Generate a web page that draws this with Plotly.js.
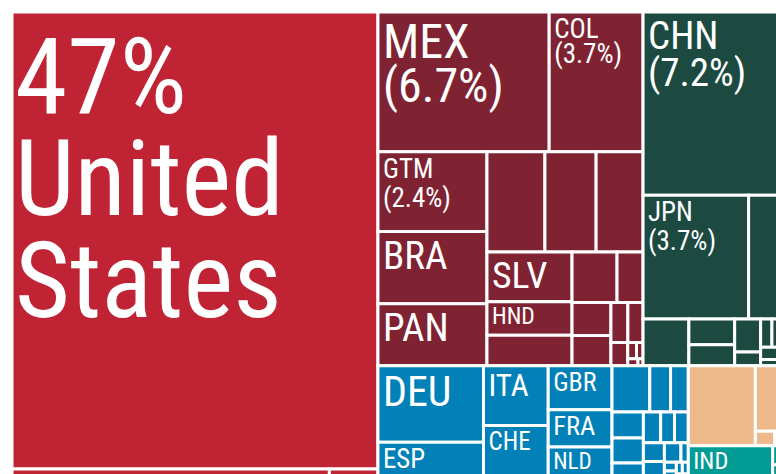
<!DOCTYPE html>
<html><head><meta charset="utf-8">
<script src="https://cdn.plot.ly/plotly-3.0.1.min.js"></script>
<style>
html,body{margin:0;padding:0;background:#fff;overflow:hidden}
#wrap{width:776px;height:474px;overflow:hidden;position:relative}
#chart{width:800px;height:490px}
</style></head><body>
<div id="wrap"><div id="chart"></div></div>
<script>
// ---- data: import shares (%) by origin, grouped by region ----
const northAmerica      = ['USA','CAN','PRI'];
const northAmericaShare = [47.0, 0.98, 0.15];

const latinAmerica      = ['MEX','COL','GTM','BRA','PAN','VEN','CHL','ECU','SLV','HND','NIC','DOM','PER','ARG','TTO','URY','CUB','PRY','BOL','JAM','HTI','BLZ'];
const latinAmericaShare = [6.73, 3.69, 2.44, 2.21, 1.90, 1.63, 1.44, 1.32, 1.19, 0.80, 0.73, 0.64, 0.37, 0.36, 0.33, 0.19, 0.17, 0.11, 0.04, 0.03, 0.02, 0.01];

const eastAsia      = ['CHN','JPN','KOR','TWN','THA','HKG','MYS','SGP','VNM','IDN','PHL','MNG','BRN'];
const eastAsiaShare = [7.16, 3.67, 1.16, 0.60, 0.33, 0.27, 0.24, 0.10, 0.09, 0.08, 0.06, 0.03, 0.02];

const europe      = ['DEU','ESP','ITA','CHE','GBR','FRA','NLD','BEL','SWE','AUT','FIN','DNK','IRL','PRT','POL','CZE','NOR','HUN','RUS','SVK','ROU','GRC','SVN','LUX','BGR'];
const europeShare = [2.27, 1.12, 1.09, 0.99, 0.79, 0.67, 0.59, 0.49, 0.27, 0.23, 0.23, 0.22, 0.15, 0.15, 0.12, 0.12, 0.11, 0.11, 0.09, 0.04, 0.03, 0.03, 0.02, 0.02, 0.02];

const middleEast      = ['ISR','TUR','ARE','SAU','JOR'];
const middleEastShare = [1.51, 0.49, 0.08, 0.02, 0.01];

const southAsia      = ['IND','PAK','BGD'];
const southAsiaShare = [0.81, 0.05, 0.04];

const regions      = ['North America','Latin America','East Asia','Europe','Middle East','South Asia'];
const regionCodes  = [northAmerica, latinAmerica, eastAsia, europe, middleEast, southAsia];
const regionShares = [northAmericaShare, latinAmericaShare, eastAsiaShare, europeShare, middleEastShare, southAsiaShare];

// labels drawn on tiles
const shownCodes   = ['USA','MEX','COL','GTM','BRA','PAN','SLV','HND','CHN','JPN','DEU','ESP','ITA','CHE','GBR','FRA','NLD','IND'];
const withPercent  = ['MEX','COL','GTM','CHN','JPN'];
const countryNames = {USA: 'United<br>States'};

// ---- styles ----
const regionColor = {
  'North America':'#C02334','Latin America':'#7F2333','East Asia':'#1C4A41',
  'Europe':'#0181B8','Middle East':'#EEB98B','South Asia':'#039B96'
};
const labelSize = {USA:106, MEX:48, CHN:39, COL:27, JPN:27, GTM:27, BRA:39, PAN:39, SLV:38, HND:25,
                   DEU:42, ESP:27, ITA:31, CHE:25, GBR:26, FRA:27, NLD:25, IND:25};
const lineGap = {USA:0.74, MEX:0.70, CHN:0.73, COL:0.72, GTM:0.83, JPN:0.83}; // fraction of plotly's 1.3em
const FONT = "'Roboto Condensed', 'DejaVu Sans Condensed', sans-serif";

// ---- build hierarchy ----
const ids=['root'], labels=['Imports'], parents=[''], values=[0], colors=['#ffffff'], texts=[''], sizes=[12];
const firstLineToCode = {};
regions.forEach((reg,i)=>{
  ids.push(reg); labels.push(reg); parents.push('root'); values.push(0);
  colors.push(regionColor[reg]); texts.push(''); sizes.push(12);
  regionCodes[i].forEach((code,j)=>{
    const v=regionShares[i][j];
    ids.push(code); labels.push(code); parents.push(reg); values.push(v);
    colors.push(regionColor[reg]);
    let t='';
    if(code==='USA') t=Math.round(v)+'%<br>'+countryNames.USA;
    else if(withPercent.includes(code)) t=code+'<br>('+v.toFixed(1)+'%)';
    else if(shownCodes.includes(code)) t=code;
    if(t) firstLineToCode[t.split('<br>')[0]] = code;
    texts.push(t); sizes.push(labelSize[code]||12);
  });
});

const data=[{
  type:'treemap', ids, labels, parents, values, branchvalues:'remainder', sort:true,
  text:texts, textinfo:'text', textposition:'top left',
  textfont:{family:FONT, size:sizes, color:'#ffffff'},
  marker:{colors, line:{color:'#ffffff', width:3}, pad:{t:0,l:0,r:0,b:0}, depthfade:false},
  tiling:{packing:'squarify', squarifyratio:1.618034, pad:0},
  pathbar:{visible:false}, leaf:{opacity:1}, root:{color:'#ffffff'},
  hoverinfo:'none'
}];
const layout={width:800, height:494, margin:{l:12,t:12,r:18,b:14}, paper_bgcolor:'#ffffff', showlegend:false};

Plotly.newPlot('chart', data, layout, {staticPlot:true, displayModeBar:false}).then(()=>{
  document.querySelectorAll('#chart text.slicetext').forEach(t=>{
    const lines=t.querySelectorAll('tspan.line');
    const first = lines.length ? lines[0].textContent : t.textContent;
    const code = firstLineToCode[first];
    if(!code) return;
    const f = lineGap[code] || 0.74;
    lines.forEach(ts=>{
      const dy=ts.getAttribute('dy');
      if(dy && dy.endsWith('em')) ts.setAttribute('dy',(parseFloat(dy)*f)+'em');
    });
    if(code!=='USA'){
      const tr=t.getAttribute('transform')||'';
      t.setAttribute('transform','translate(2,-2) '+tr);
    }
  });
});
</script></body></html>
